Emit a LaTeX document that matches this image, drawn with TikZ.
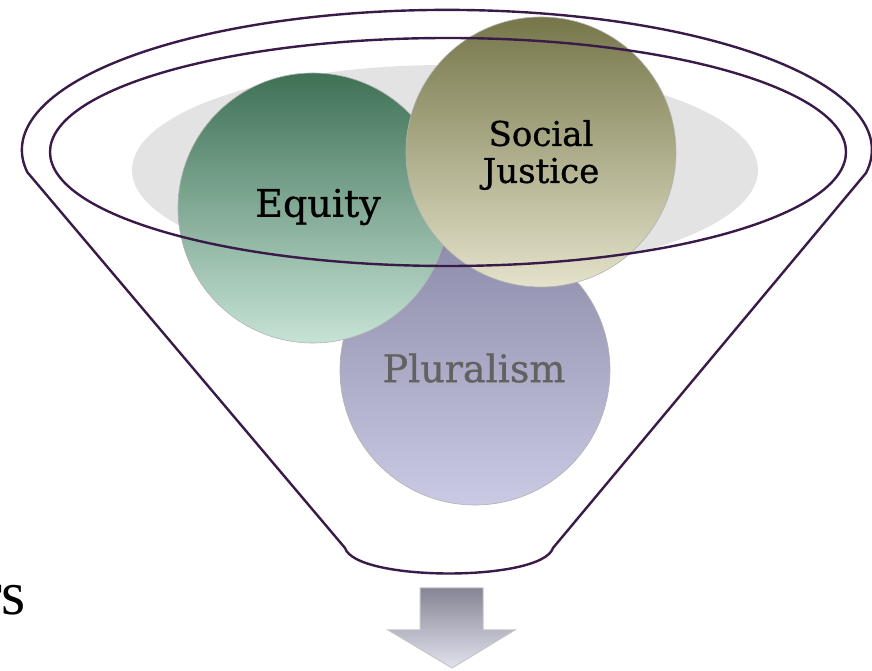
\documentclass[tikz,border=0pt]{standalone}
\usepackage{fontspec}
\setmainfont{DejaVu Serif}
\newfontfamily\rockfont[FakeBold=0.8]{DejaVu Serif}
\newfontfamily\timesfont{Liberation Serif}
\definecolor{funnelline}{HTML}{3A1A48}
\definecolor{grayell}{HTML}{E3E3E3}
\definecolor{eqtop}{HTML}{3E7155}
\definecolor{eqbot}{HTML}{C6E3D6}
\definecolor{sjtop}{HTML}{76764A}
\definecolor{sjbot}{HTML}{E4E2CA}
\definecolor{pltop}{HTML}{8C8CAA}
\definecolor{plbot}{HTML}{CACAE4}
\definecolor{pltext}{HTML}{626262}
\definecolor{arrtop}{HTML}{858595}
\definecolor{arrbot}{HTML}{E2E2EE}
\tikzset{
  funnel/.style={draw=funnelline, line width=2.4pt, line join=round},
  bubble/.style={circle, minimum size=270pt, inner sep=0pt, draw=gray!60, line width=0.6pt, align=center},
  lbl/.style={font=\rockfont\fontsize{38}{38}\selectfont, align=center},
  lblsmall/.style={font=\rockfont\fontsize{34}{37}\selectfont, align=center}
}
\begin{document}
\begin{tikzpicture}[x=1pt,y=1pt]
\useasboundingbox (0,0) rectangle (872,671);
\clip (0,0) rectangle (872,671);
% grey backdrop ellipse
\fill[grayell] (445,501) ellipse [x radius=313, y radius=105];
% bubbles
\node[bubble, top color=pltop, bottom color=plbot] (plur) at (475,301) {};
\node[bubble, top color=eqtop, bottom color=eqbot] (eq) at (313,463) {};
\node[bubble, top color=sjtop, bottom color=sjbot] (sj) at (541,519) {};
\node[lbl, text=pltext] (plurt) at (474,303) {Pluralism};
\node[lbl] (eqt) at (318,464) {Equity};
\node[lblsmall] (sjt) at (541,516) {Social\\Justice};
% inner rim of funnel
\draw[funnel] (448,519) ellipse [x radius=398, y radius=114];
% funnel outline
\coordinate (lt) at (28,498);
\coordinate (lb) at (345,123);
\coordinate (rb) at (553,123);
\coordinate (rt) at (866,498);
\draw[funnel] (lt) -- (lb) .. controls (356,89) and (542,89) .. (rb) -- (rt)
  arc[start angle=-9.5, end angle=189.5, x radius=425, y radius=140] -- cycle;
% down arrow
\draw[draw=gray!45, line width=1pt, top color=arrtop, bottom color=arrbot]
  (420,83) -- (483,83) -- (483,41) -- (515,41) -- (452,3) -- (388,41) -- (420,41) -- cycle;
% slide text, cut off at the left edge as in the reference
\node[anchor=base east, inner sep=0pt, font=\timesfont\fontsize{62}{62}\selectfont] (rs) at (26,56) {rs};
\end{tikzpicture}
\end{document}
